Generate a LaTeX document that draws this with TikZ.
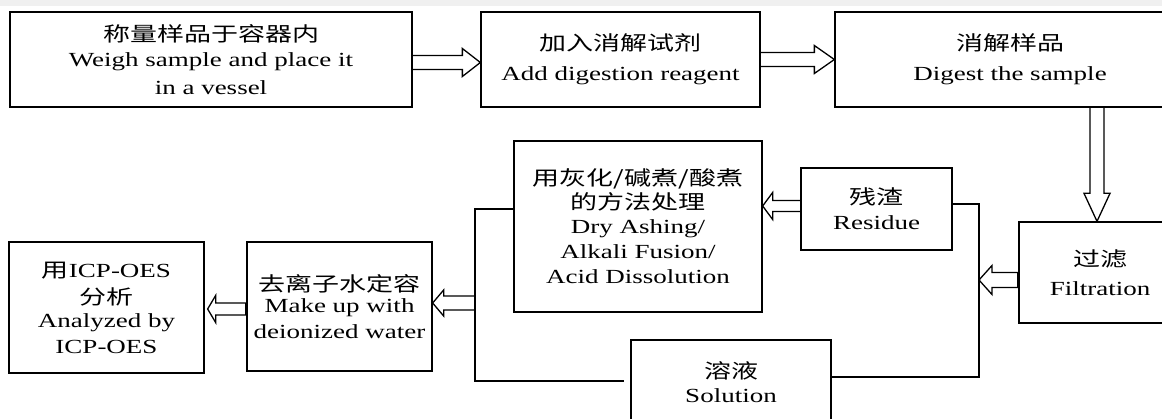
\documentclass[tikz,border=0pt]{standalone}
\usepackage{fontspec}
\setmainfont{Liberation Serif}[FakeStretch=1.35]
\newfontfamily\cjk{Noto Sans CJK SC}[FakeStretch=1.35]
\usetikzlibrary{calc}
\tikzset{
  boxnode/.style={draw, line width=1.3pt, inner sep=0pt, align=center,
    font=\fontsize{20pt}{27pt}\selectfont},
  ln/.style={line width=1.3pt},
  arrowln/.style={line width=1.3pt, line join=miter},
}
% right-pointing hollow block arrow: start, tip, shaft half, head half, head length
\newcommand\rblock[5]{\draw[arrowln] let \p1=(#1), \p2=(#2) in
  (\x1,{\y1+#3pt}) -- ({\x2-#5pt},{\y1+#3pt}) -- ({\x2-#5pt},{\y1+#4pt}) -- (\x2,\y1)
  -- ({\x2-#5pt},{\y1-#4pt}) -- ({\x2-#5pt},{\y1-#3pt}) -- (\x1,{\y1-#3pt});}
\newcommand\lblock[5]{\draw[arrowln] let \p1=(#1), \p2=(#2) in
  (\x1,{\y1+#3pt}) -- ({\x2+#5pt},{\y1+#3pt}) -- ({\x2+#5pt},{\y1+#4pt}) -- (\x2,\y1)
  -- ({\x2+#5pt},{\y1-#4pt}) -- ({\x2+#5pt},{\y1-#3pt}) -- (\x1,{\y1-#3pt});}
\newcommand\dblock[5]{\draw[arrowln] let \p1=(#1), \p2=(#2) in
  ({\x1-#3pt},\y1) -- ({\x1-#3pt},{\y2+#5pt}) -- ({\x1-#4pt},{\y2+#5pt}) -- (\x1,\y2)
  -- ({\x1+#4pt},{\y2+#5pt}) -- ({\x1+#3pt},{\y2+#5pt}) -- ({\x1+#3pt},\y1);}
\begin{document}
\begin{tikzpicture}[x=1pt,y=-1pt]
\useasboundingbox (0,0) rectangle (1162,419);
\clip (0,0) rectangle (1162,419);
\fill[white] (0,0) rectangle (1162,419);
\fill[black!6] (0,0) rectangle (1162,6);

% top row
\node[boxnode, minimum width=402pt, minimum height=95pt] (n1) at (211,59.5)
  {{\cjk 称量样品于容器内}\\[-2pt] Weigh sample and place it\\[1pt] in a vessel};
\node[boxnode, minimum width=279pt, minimum height=95pt] (n2) at (620.5,59.5)
  {{\cjk 加入消解试剂}\\[3pt] Add digestion reagent};
\node[boxnode, minimum width=350pt, minimum height=95pt] (n3) at (1010,59.5)
  {{\cjk 消解样品}\\[3pt] Digest the sample};

% middle
\node[boxnode, minimum width=248pt, minimum height=171pt] (ash) at (638,226.5)
  {{\cjk 用灰化/碱煮/酸煮}\\[-3pt] {\cjk 的方法处理}\\[-3pt] Dry Ashing/\\[-2pt] Alkali Fusion/\\[-2pt] Acid Dissolution};
\node[boxnode, minimum width=151pt, minimum height=82pt] (res) at (876.5,209)
  {{\cjk 残渣}\\[-2pt] Residue};
\node[boxnode, minimum width=162pt, minimum height=101pt] (filt) at (1100,272.5)
  {{\cjk 过滤}\\[2pt] Filtration};
\node[boxnode, minimum width=200pt, minimum height=85pt] (sol) at (731,382.5)
  {{\cjk 溶液}\\[-3pt] Solution};
\node[boxnode, minimum width=185pt, minimum height=129pt] (water) at (339.5,306.5)
  {{\cjk 去离子水定容}\\[-6pt] Make up with\\[-1pt] deionized water};
\node[boxnode, minimum width=195pt, minimum height=131pt] (icp) at (106.5,307.5)
  {{\cjk 用}ICP-OES\\ {\cjk 分析}\\[-4pt] Analyzed by\\[-1pt] ICP-OES};

% bracket lines
\coordinate (lbb) at (475,381);
\coordinate (lbe) at (624,381);
\coordinate (rbb) at (979,377);
\coordinate (ftip) at (979,280);
\coordinate (wstart) at (475,303);
\draw[ln] ([yshift=17.5pt]ash.west) -| (lbb) -- (lbe);
\draw[ln] ([yshift=5pt]res.east) -| (rbb) -- (sol.east |- rbb);

% block arrows
\rblock{[yshift=-3pt]n1.east}{n2.west}{7}{14}{18}
\rblock{n2.east}{n3.west}{7}{14}{20}
\dblock{[xshift=87pt]n3.south}{filt.north}{7}{13}{28}
\lblock{[yshift=-7.5pt]filt.west}{ftip}{7.5}{14.5}{13}
\draw[line width=3pt] ([yshift=-0.5pt]filt.west) -- ([yshift=-14.5pt]filt.west);
\lblock{[yshift=3pt]res.west}{ash.east}{5.5}{13.5}{10}
\lblock{wstart}{water.east}{7}{13}{11}
\lblock{[yshift=-2.5pt]water.west}{[xshift=3pt]icp.east}{6}{13.5}{8}
\draw[line width=3pt] ([yshift=3.5pt]water.west) -- ([yshift=-8.5pt]water.west);
\end{tikzpicture}
\end{document}
